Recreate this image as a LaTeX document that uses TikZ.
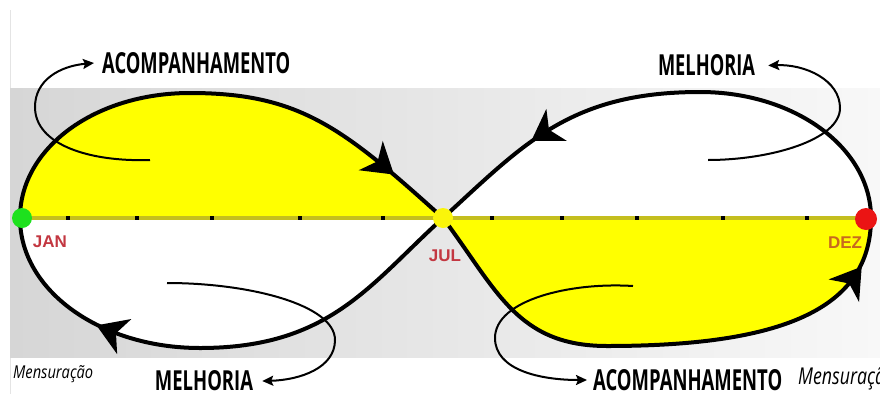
\documentclass[tikz,border=0pt]{standalone}
\usepackage{fontspec}
\usepackage{graphicx}
\usetikzlibrary{arrows.meta,decorations.markings}
\newfontfamily\osans{Open Sans}
\newfontfamily\lsans{Liberation Sans}
\definecolor{bgl}{RGB}{214,214,214}
\definecolor{bgr}{RGB}{248,248,248}
\definecolor{ylw}{RGB}{255,255,0}
\definecolor{axiscol}{RGB}{196,190,30}
\definecolor{mred}{RGB}{195,55,65}
\definecolor{dezcol}{RGB}{200,105,30}
\definecolor{dotgreen}{RGB}{30,225,30}
\definecolor{dotred}{RGB}{235,20,20}
\definecolor{dotylw}{RGB}{250,245,10}
\definecolor{edgegray}{RGB}{228,228,228}
\newcommand{\myhead}{\fill[black] (16pt,0pt) -- (-14pt,19pt) -- (-5pt,0pt) -- (-14pt,-19pt) -- cycle;}
\tikzset{
 loopline/.style={line width=4pt, black, line join=round},
 thinarrow/.style={line width=2pt, black, -{Stealth[length=11pt,width=10pt,inset=2pt]}},
 bigtxt/.style={inner sep=0pt, font=\osans\bfseries},
 month/.style={inner sep=0pt, font=\lsans\bfseries\fontsize{17}{17}\selectfont},
 dotnode/.style={circle, inner sep=0pt, minimum size=20pt, draw=none},
 tickmk/.style={fill=black, minimum size=4.5pt, inner sep=0pt},
 meas/.style={inner sep=0pt, anchor=base west},
 headmark/.style={postaction={decorate}, decoration={markings, mark=at position #1 with {\myhead}}},
}
\begin{document}
\begin{tikzpicture}[x=1pt,y=-1pt]
\useasboundingbox (0,0) rectangle (880,394);
\clip (0,0) rectangle (880,394);
\fill[white] (0,0) rectangle (880,394);
\draw[edgegray, line width=1pt] (10,10) -- (10,394);
\shade[left color=bgl, right color=bgr] (10,88) rectangle (880,357);

% key points of the figure eight
\coordinate (jan) at (20,218);
\coordinate (jul) at (443,218);
\coordinate (dez) at (871,218);
\coordinate (ltop) at (190,93);
\coordinate (lbot) at (200,348);
\coordinate (rtop) at (700,92);
\coordinate (rbot) at (607,346);

% lobe interiors
\fill[white] (jan) .. controls (20,148) and (95,93) .. (ltop)
  .. controls (300,93) and (343,128) .. (jul)
  .. controls (370,284) and (330,348) .. (lbot)
  .. controls (101,348) and (20,291) .. (jan) -- cycle;
\fill[white] (jul) .. controls (497,290) and (517,346) .. (rbot)
  .. controls (780,346) and (871,310) .. (dez)
  .. controls (871,148) and (795,92) .. (rtop)
  .. controls (570,92) and (524,144) .. (jul) -- cycle;
\fill[ylw] (jan) .. controls (20,148) and (95,93) .. (ltop)
  .. controls (300,93) and (343,128) .. (jul) -- cycle;
\fill[ylw] (jul) .. controls (497,290) and (517,346) .. (rbot)
  .. controls (780,346) and (871,310) .. (dez) -- cycle;

% time axis
\draw[axiscol, line width=4pt] (jan) -- (dez);
\foreach \tx in {68,137,212,300,383,492,562,637,723,807}
  \node[tickmk] (tk\tx) at (\tx,218) {};

% the loop
\draw[loopline] (jan) .. controls (20,148) and (95,93) .. (ltop)
  .. controls (300,93) and (343,128) .. (jul)
  .. controls (497,290) and (517,346) .. (rbot)
  .. controls (780,346) and (871,310) .. (dez)
  .. controls (871,148) and (795,92) .. (rtop)
  .. controls (570,92) and (524,144) .. (jul)
  .. controls (370,284) and (330,348) .. (lbot)
  .. controls (101,348) and (20,291) .. (jan);

% arrowheads on the loop
\path[headmark=0.72] (ltop) .. controls (300,93) and (343,128) .. (jul);
\path[headmark=0.80] (rbot) .. controls (780,346) and (871,310) .. (dez);
\path[headmark=0.55] (rtop) .. controls (570,92) and (524,144) .. (jul);
\path[headmark=0.37] (lbot) .. controls (101,348) and (20,291) .. (jan);

% dots
\node[dotnode, fill=dotgreen] (jandot) at (22,218) {};
\node[dotnode, fill=dotylw] (juldot) at (443,218) {};
\node[dotnode, fill=dotred, minimum size=22pt] (dezdot) at (866,219) {};

% month labels
\node[month, text=mred] (janlbl) at (50,242) {JAN};
\node[month, text=mred] (jullbl) at (445,256) {JUL};
\node[month, text=dezcol] (dezlbl) at (845,243) {DEZ};

% big words
\node[bigtxt, anchor=west] (acomp1) at (102,63) {\resizebox{188pt}{21pt}{ACOMPANHAMENTO}};
\node[bigtxt] (mel1) at (706.5,65.5) {\resizebox{97pt}{21pt}{MELHORIA}};
\node[bigtxt] (mel2) at (204,381) {\resizebox{98pt}{20pt}{MELHORIA}};
\node[bigtxt, anchor=west] (acomp2) at (593,380) {\resizebox{189pt}{21pt}{ACOMPANHAMENTO}};

\node[meas] (meas1) at (13,378) {\resizebox{80pt}{13pt}{\osans\itshape Mensuração}};
\node[meas] (meas2) at (798,384) {\resizebox{97pt}{17pt}{\osans\itshape Mensuração}};

% curved thin arrows
\coordinate (s1) at (150,160);
\coordinate (s2) at (708,160);
\coordinate (s3) at (167,283);
\coordinate (s4) at (633,286);
\draw[thinarrow] (s1) .. controls (90,162) and (35,145) .. (35,107)
  .. controls (35,80) and (60,66) .. ([xshift=-8pt]acomp1.west);
\draw[thinarrow] (s2) .. controls (770,160) and (840,140) .. (840,108)
  .. controls (840,80) and (805,64) .. ([xshift=13pt]mel1.east);
\draw[thinarrow] (s3) .. controls (250,283) and (335,305) .. (335,340)
  .. controls (335,368) and (300,380) .. ([xshift=9pt]mel2.east);
\draw[thinarrow] (s4) .. controls (570,282) and (495,300) .. (495,338)
  .. controls (495,370) and (540,380) .. ([xshift=-6pt]acomp2.west);
\end{tikzpicture}
\end{document}
